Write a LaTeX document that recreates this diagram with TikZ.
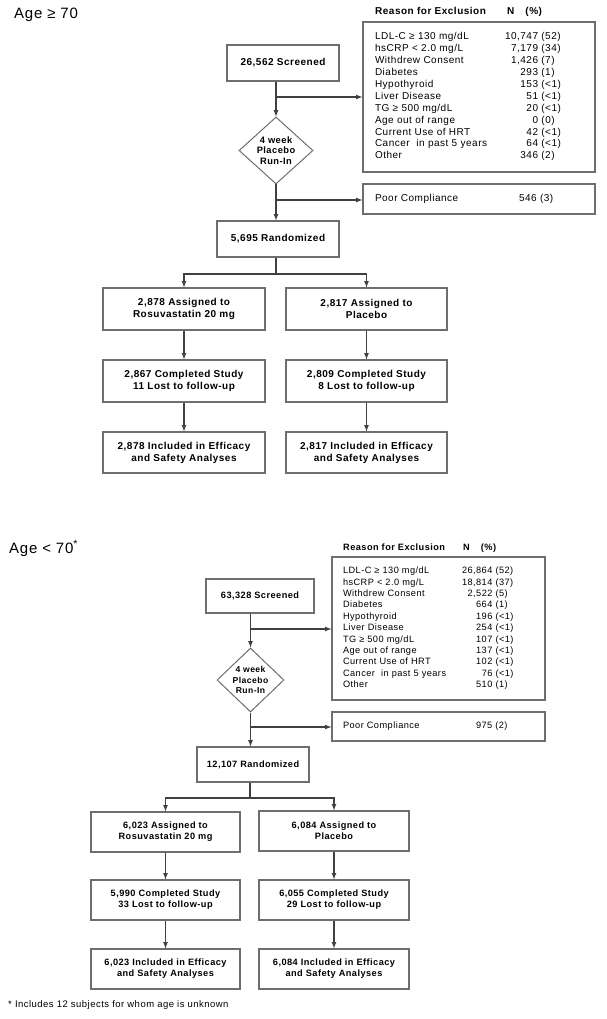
\documentclass[tikz,border=0pt]{standalone}
\usepackage{fontspec}
\setmainfont[LetterSpace=5]{Liberation Sans}
\usetikzlibrary{shapes.geometric, arrows}
\definecolor{boxline}{HTML}{6E6E6E}
\definecolor{conline}{HTML}{404040}
\tikzstyle{flowA} = [rectangle, draw=boxline, line width=1.2pt, align=center, font=\bfseries\fontsize{10}{12}\selectfont]
\tikzstyle{flowB} = [rectangle, draw=boxline, line width=1.2pt, align=center, font=\bfseries\fontsize{9.2}{11}\selectfont]
\tikzstyle{runin} = [diamond, draw=boxline, line width=1pt, aspect=1.1, inner sep=0pt, align=center]
\tikzstyle{listA} = [rectangle, draw=boxline, line width=1.2pt, align=left, inner xsep=12pt, text width=208pt, font=\fontsize{10}{11.9}\selectfont]
\tikzstyle{listB} = [rectangle, draw=boxline, line width=1.2pt, align=left, inner xsep=11pt, text width=191pt, font=\fontsize{9.2}{11.4}\selectfont]
\tikzstyle{arrow} = [line width=1.2pt, draw=conline, ->, >=latex]
\tikzstyle{line} = [line width=1.2pt, draw=conline]

\begin{document}
\begin{tikzpicture}[x=1pt, y=-1pt]
\path [use as bounding box, fill=white] (0,0) rectangle (607,1019);

% Age >= 70
\node (age1) [anchor=base west, inner sep=0pt, font=\fontsize{15}{17}\selectfont] at (14,18.5) {Age ≥ 70};
\node (hdr1) [anchor=base west, inner sep=0pt, font=\bfseries\fontsize{10}{12}\selectfont] at (375,15) {\makebox[132pt][l]{Reason for Exclusion}N\hspace{11pt}(\%)};

\node (scr1) [flowA, minimum width=112pt, minimum height=36pt] at (283,63) {26,562 Screened};
\node (excl1) [listA, minimum height=150pt] at (479,97) {%
\begin{tabular}{@{}p{130pt}@{}r@{\ }l@{}}
LDL-C ≥ 130 mg/dL & 10,747 & (52)\\
hsCRP < 2.0 mg/L & 7,179 & (34)\\
Withdrew Consent & 1,426 & (7)\\
Diabetes & 293 & (1)\\
Hypothyroid & 153 & (<1)\\
Liver Disease & 51 & (<1)\\
TG ≥ 500 mg/dL & 20 & (<1)\\
Age out of range & 0 & (0)\\
Current Use of HRT & 42 & (<1)\\
Cancer\ \ in past 5 years & 64 & (<1)\\
Other & 346 & (2)
\end{tabular}};
\node (run1) [runin, minimum width=74pt, minimum height=67pt, font=\bfseries\fontsize{9.3}{10.8}\selectfont] at (276,150.5) {4 week\\Placebo\\Run-In};
\node (poor1) [listA, minimum height=30pt] at (479,199) {\makebox[144pt][l]{Poor Compliance}546 (3)};
\node (rand1) [flowA, minimum width=122pt, minimum height=36pt] at (278,239) {5,695 Randomized};

\node (rosu1) [flowA, minimum width=162pt, minimum height=42pt] at (184,309) {2,878 Assigned to\\Rosuvastatin 20 mg};
\node (plac1) [flowA, minimum width=161pt, minimum height=42pt] at (366.5,309) {2,817 Assigned to\\Placebo};
\node (comp1a) [flowA, minimum width=162pt, minimum height=42pt] at (184,381) {2,867 Completed Study\\11 Lost to follow-up};
\node (comp1b) [flowA, minimum width=161pt, minimum height=42pt] at (366.5,381) {2,809 Completed Study\\8 Lost to follow-up};
\node (incl1a) [flowA, minimum width=162pt, minimum height=41pt] at (184,452.5) {2,878 Included in Efficacy\\and Safety Analyses};
\node (incl1b) [flowA, minimum width=161pt, minimum height=41pt] at (366.5,452.5) {2,817 Included in Efficacy\\and Safety Analyses};

\coordinate (sp1a) at (276,97);
\coordinate (sp1b) at (276,200);
\coordinate (fk1) at (276,274);

\draw [arrow] (scr1.south -| run1.north) -- (run1.north);
\draw [arrow] (sp1a) -- (excl1.west |- sp1a);
\draw [arrow] (run1.south) -- (run1.south |- rand1.north);
\draw [arrow] (sp1b) -- (poor1.west |- sp1b);
\draw [line] (rand1.south -| fk1) -- (fk1);
\draw [arrow] (fk1) -| (rosu1.north);
\draw [arrow] (fk1) -| (plac1.north);
\draw [arrow] (rosu1) -- (comp1a);
\draw [arrow] (plac1) -- (comp1b);
\draw [arrow] (comp1a) -- (incl1a);
\draw [arrow] (comp1b) -- (incl1b);

% Age < 70
\node (age2) [anchor=base west, inner sep=0pt, font=\fontsize{15}{17}\selectfont] at (9,553) {Age < 70\textsuperscript{*}};
\node (hdr2) [anchor=base west, inner sep=0pt, font=\bfseries\fontsize{9.2}{11}\selectfont] at (343,550) {\makebox[120pt][l]{Reason for Exclusion}N\hspace{11pt}(\%)};

\node (scr2) [flowB, minimum width=108pt, minimum height=34pt] at (260,596) {63,328 Screened};
\node (excl2) [listB, minimum height=143pt] at (438.5,628.5) {%
\begin{tabular}{@{}p{119pt}@{}r@{\ }l@{}}
LDL-C ≥ 130 mg/dL & 26,864 & (52)\\
hsCRP < 2.0 mg/L & 18,814 & (37)\\
Withdrew Consent & 2,522 & (5)\\
Diabetes & 664 & (1)\\
Hypothyroid & 196 & (<1)\\
Liver Disease & 254 & (<1)\\
TG ≥ 500 mg/dL & 107 & (<1)\\
Age out of range & 137 & (<1)\\
Current Use of HRT & 102 & (<1)\\
Cancer\ \ in past 5 years & 76 & (<1)\\
Other & 510 & (1)
\end{tabular}};
\node (run2) [runin, minimum width=67pt, minimum height=64pt, font=\bfseries\fontsize{8.6}{10.2}\selectfont] at (250.5,680) {4 week\\Placebo\\Run-In};
\node (poor2) [listB, minimum height=29pt] at (438.5,726.5) {\makebox[133pt][l]{Poor Compliance}975 (2)};
\node (rand2) [flowB, minimum width=112pt, minimum height=35pt] at (253,764.5) {12,107 Randomized};

\node (rosu2) [flowB, minimum width=149pt, minimum height=40pt] at (165.5,832) {6,023 Assigned to\\Rosuvastatin 20 mg};
\node (plac2) [flowB, minimum width=150pt, minimum height=40pt] at (334,831) {6,084 Assigned to\\Placebo};
\node (comp2a) [flowB, minimum width=149pt, minimum height=40pt] at (165.5,900) {5,990 Completed Study\\33 Lost to follow-up};
\node (comp2b) [flowB, minimum width=150pt, minimum height=40pt] at (334,900) {6,055 Completed Study\\29 Lost to follow-up};
\node (incl2a) [flowB, minimum width=149pt, minimum height=40pt] at (165.5,969) {6,023 Included in Efficacy\\and Safety Analyses};
\node (incl2b) [flowB, minimum width=150pt, minimum height=40pt] at (334,969) {6,084 Included in Efficacy\\and Safety Analyses};

\coordinate (sp2a) at (250,629);
\coordinate (sp2b) at (250,727);
\coordinate (fk2) at (250,798);

\draw [arrow] (scr2.south -| run2.north) -- (run2.north);
\draw [arrow] (sp2a) -- (excl2.west |- sp2a);
\draw [arrow] (run2.south) -- (run2.south |- rand2.north);
\draw [arrow] (sp2b) -- (poor2.west |- sp2b);
\draw [line] (rand2.south -| fk2) -- (fk2);
\draw [arrow] (fk2) -| (rosu2.north);
\draw [arrow] (fk2) -| (plac2.north);
\draw [arrow] (rosu2) -- (comp2a);
\draw [arrow] (plac2) -- (comp2b);
\draw [arrow] (comp2a) -- (incl2a);
\draw [arrow] (comp2b) -- (incl2b);

\node (note) [anchor=base west, inner sep=0pt, font=\fontsize{9.5}{11}\selectfont] at (8,1007) {* Includes 12 subjects for whom age is unknown};

\end{tikzpicture}
\end{document}
